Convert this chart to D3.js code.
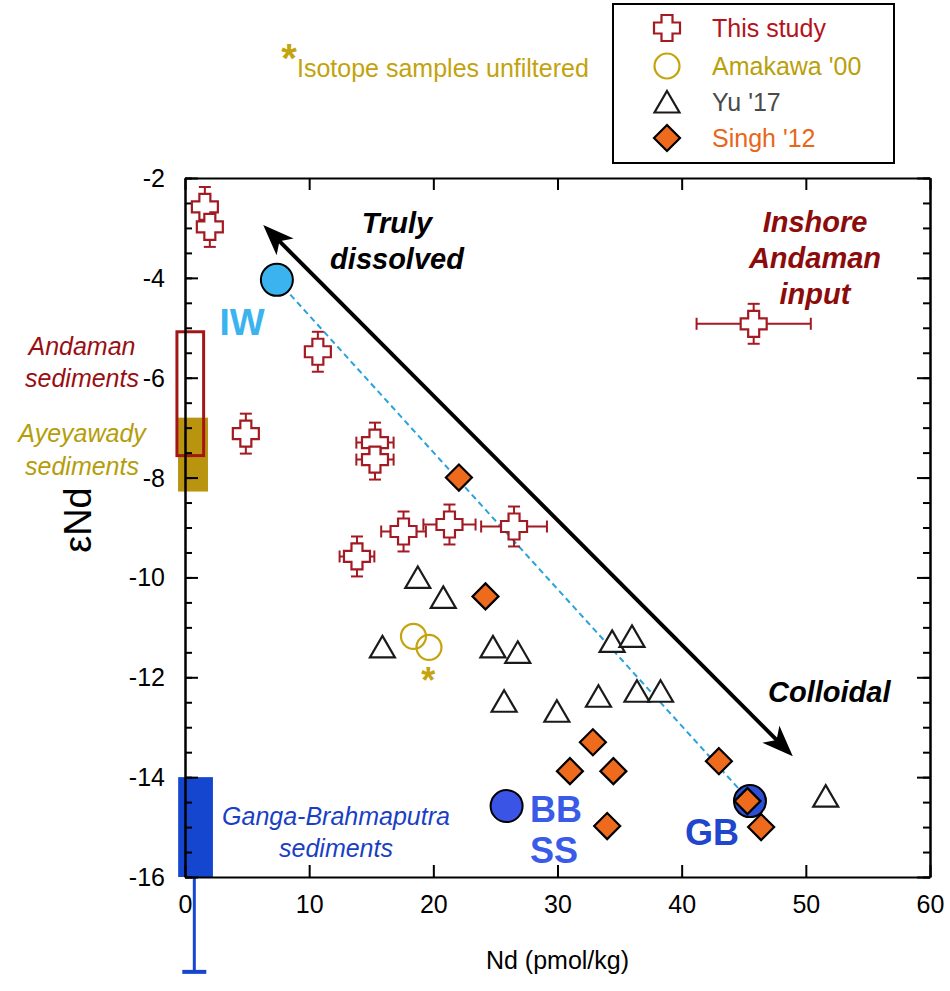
<!DOCTYPE html>
<html>
<head>
<meta charset="utf-8">
<script src="https://cdn.jsdelivr.net/npm/d3@7"></script>
<style>
  body { margin: 0; background: #fff; }
  svg { font-family: "Liberation Sans", Arial, Helvetica, sans-serif; }
</style>
</head>
<body>
<div class="chart"></div>
<script>
/*** DATA ***/
// this study (crosses, with error bars)
const studyNd     = [1.6, 2.0, 10.7, 4.9, 15.3, 15.3, 13.85, 17.6, 21.3, 26.5, 45.8];
const studyEps    = [-2.58, -2.98, -5.48, -7.12, -7.3, -7.64, -9.58, -9.08, -8.94, -8.98, -4.92];
const studyNdErr  = [0, 0, 0, 0, 1.5, 1.5, 1.4, 1.8, 2.1, 2.65, 4.6];
const studyEpsErr = [0.4, 0.4, 0.4, 0.4, 0.4, 0.4, 0.4, 0.4, 0.4, 0.4, 0.4];

// Amakawa '00
const amakawaNd  = [18.4, 19.65];
const amakawaEps = [-11.18, -11.4];
// unfiltered isotope sample flag
const unfilteredNd  = [19.6];
const unfilteredEps = [-11.9];

// Yu '17
const yuNd  = [18.75, 20.8, 15.9, 24.8, 26.8, 34.4, 36.0, 25.7, 29.95, 33.3, 36.4, 38.3, 51.6];
const yuEps = [-10.0, -10.4, -11.39, -11.39, -11.5, -11.28, -11.18, -12.48, -12.68, -12.38, -12.28, -12.28, -14.38];

// Singh '12
const singhNd  = [22.06, 24.2, 32.85, 31.0, 34.5, 43.0, 45.3, 46.4, 34.0];
const singhEps = [-8.0, -10.38, -13.3, -13.88, -13.88, -13.68, -14.48, -15.0, -14.98];

// end members
const endNames = ['IW', 'BB', 'GB'];
const endNd    = [7.4, 25.9, 45.5];
const endEps   = [-4.04, -14.58, -14.48];

// sediment ranges [nd0, nd1, eps0, eps1]
const andamanSed   = [-0.65, 1.5, -5.08, -7.56];
const ayeyawadySed = [-0.56, 1.85, -6.8, -8.28];
const gangaSed     = [-0.55, 2.25, -14, -16];
const gangaErrNd   = 0.75;
const gangaErrLow  = -17.9;

// trend arrow ends
const arrowNd  = [6.3, 48.95];
const arrowEps = [-2.94, -13.58];

// axes
const xTicks = [0, 10, 20, 30, 40, 50, 60];
const yTicks = [-16, -14, -12, -10, -8, -6, -4, -2];

// legend
const legendNames = ['This study', "Amakawa '00", "Yu '17", "Singh '12"];

/*** LAYOUT ***/
const width = 950, height = 991;
const plot = { left: 185, right: 930, top: 178, bottom: 877 };

const svg = d3.select('.chart')
  .append('svg')
  .attr('width', width)
  .attr('height', height);

const x = d3.scaleLinear().domain([0, 60]).range([plot.left, plot.right]);
const y = d3.scaleLinear().domain([-16, -2]).range([plot.bottom, plot.top]);

/*** MARKER SHAPES ***/
function crossPath(s, a) {
  return `M${-a},${-s}H${a}V${-a}H${s}V${a}H${a}V${s}H${-a}V${a}H${-s}V${-a}H${-a}Z`;
}
const crossD    = crossPath(13, 5.5);
const triangleD = 'M0,-11L12.5,10.5L-12.5,10.5Z';
const diamondD  = 'M0,-13L13,0L0,13L-13,0Z';

const RED = '#a31a22', GOLD = '#c4a40c', ORANGE = '#ee6a1d';

/*** SEDIMENT RANGES ***/
function rangeRect(r) {
  return {
    x: x(Math.min(r[0], r[1])), w: Math.abs(x(r[1]) - x(r[0])),
    y: y(Math.max(r[2], r[3])), h: Math.abs(y(r[3]) - y(r[2]))
  };
}
const ay = rangeRect(ayeyawadySed);
svg.append('rect').attr('x', ay.x).attr('y', ay.y).attr('width', ay.w).attr('height', ay.h)
  .attr('fill', '#b8940f');

const an = rangeRect(andamanSed);
svg.append('rect').attr('x', an.x).attr('y', an.y).attr('width', an.w).attr('height', an.h)
  .attr('fill', 'none').attr('stroke', '#a31616').attr('stroke-width', 3);

const gb = rangeRect(gangaSed);
svg.append('rect').attr('x', gb.x).attr('y', gb.y).attr('width', gb.w).attr('height', gb.h)
  .attr('fill', '#1446cf');
svg.append('line')
  .attr('x1', x(gangaErrNd)).attr('x2', x(gangaErrNd))
  .attr('y1', y(-16)).attr('y2', y(gangaErrLow))
  .attr('stroke', '#1446cf').attr('stroke-width', 3);
svg.append('line')
  .attr('x1', x(gangaErrNd) - 12).attr('x2', x(gangaErrNd) + 12)
  .attr('y1', y(gangaErrLow)).attr('y2', y(gangaErrLow))
  .attr('stroke', '#1446cf').attr('stroke-width', 4);

/*** AXES ***/
const yMinor = d3.range(-16, -1.99, 0.5);
const plain = d => String(d);   // keep the ASCII hyphen for negatives

function styleAxis(g) {
  g.attr('font-family', null).attr('font-size', 25);
  g.select('.domain').attr('stroke', '#000').attr('stroke-width', 2);
  g.selectAll('.tick line').attr('stroke', '#000').attr('stroke-width', 2);
  g.selectAll('.tick text').attr('fill', '#000');
}

svg.append('g')
  .attr('transform', `translate(0,${plot.bottom})`)
  .call(d3.axisBottom(x).tickValues(xTicks).tickFormat(plain).tickSizeInner(-12).tickSizeOuter(0).tickPadding(18))
  .call(styleAxis);

svg.append('g')
  .attr('transform', `translate(0,${plot.top})`)
  .call(d3.axisTop(x).tickValues(xTicks).tickSizeInner(-12).tickSizeOuter(0).tickFormat(''))
  .call(styleAxis);

svg.append('g')
  .attr('transform', `translate(${plot.left},0)`)
  .call(d3.axisLeft(y).tickValues(yMinor).tickSizeInner(-7).tickSizeOuter(0).tickFormat(''))
  .call(styleAxis);
svg.append('g')
  .attr('transform', `translate(${plot.left},0)`)
  .call(d3.axisLeft(y).tickValues(yTicks).tickFormat(plain).tickSizeInner(-13).tickSizeOuter(0).tickPadding(20))
  .call(styleAxis)
  .selectAll('.tick text').attr('dy', '0.34em');

svg.append('g')
  .attr('transform', `translate(${plot.right},0)`)
  .call(d3.axisRight(y).tickValues(yMinor).tickSizeInner(-7).tickSizeOuter(0).tickFormat(''))
  .call(styleAxis);
svg.append('g')
  .attr('transform', `translate(${plot.right},0)`)
  .call(d3.axisRight(y).tickValues(yTicks).tickSizeInner(-13).tickSizeOuter(0).tickFormat(''))
  .call(styleAxis);

// axis titles
svg.append('text')
  .attr('x', x(30)).attr('y', 969)
  .attr('text-anchor', 'middle')
  .attr('font-size', 25)
  .text('Nd (pmol/kg)');

svg.append('text')
  .attr('transform', 'translate(91,520) rotate(-90)')
  .attr('text-anchor', 'middle')
  .attr('font-size', 38)
  .text('εNd');

/*** MIXING LINE & TREND ARROW ***/
svg.append('line')
  .attr('x1', x(endNd[0])).attr('y1', y(endEps[0]))
  .attr('x2', x(endNd[2])).attr('y2', y(endEps[2]))
  .attr('stroke', '#2aa2da').attr('stroke-width', 2)
  .attr('stroke-dasharray', '6,4');

const p0 = [x(arrowNd[0]), y(arrowEps[0])];
const p1 = [x(arrowNd[1]), y(arrowEps[1])];
const ang = Math.atan2(p1[1] - p0[1], p1[0] - p0[0]);
const ux = Math.cos(ang), uy = Math.sin(ang);
svg.append('line')
  .attr('x1', p0[0] + ux * 18).attr('y1', p0[1] + uy * 18)
  .attr('x2', p1[0] - ux * 18).attr('y2', p1[1] - uy * 18)
  .attr('stroke', '#000').attr('stroke-width', 4);
const headD = 'M0,0L-31,-12L-23,0L-31,12Z';
svg.append('path').attr('d', headD)
  .attr('transform', `translate(${p1[0]},${p1[1]}) rotate(${ang * 180 / Math.PI})`);
svg.append('path').attr('d', headD)
  .attr('transform', `translate(${p0[0]},${p0[1]}) rotate(${ang * 180 / Math.PI + 180})`);

/*** SERIES ***/
// Yu '17
svg.append('g').selectAll('path')
  .data(d3.zip(yuNd, yuEps))
  .join('path')
  .attr('d', triangleD)
  .attr('transform', d => `translate(${x(d[0])},${y(d[1])})`)
  .attr('fill', '#fff').attr('stroke', '#1a1a1a').attr('stroke-width', 2.2);

// Amakawa '00
svg.append('g').selectAll('circle')
  .data(d3.zip(amakawaNd, amakawaEps))
  .join('circle')
  .attr('cx', d => x(d[0])).attr('cy', d => y(d[1]))
  .attr('r', 12.5)
  .attr('fill', 'none').attr('stroke', GOLD).attr('stroke-width', 2.2);

svg.append('g').selectAll('text')
  .data(d3.zip(unfilteredNd, unfilteredEps))
  .join('text')
  .attr('x', d => x(d[0])).attr('y', d => y(d[1]) + 21)
  .attr('text-anchor', 'middle')
  .attr('font-size', 36).attr('font-weight', 'bold')
  .attr('fill', GOLD)
  .text('*');

// end members
const endFill = ['#3bb3ef', '#3a55e6', '#2d4fd6'];
svg.append('g').selectAll('circle')
  .data(endNames)
  .join('circle')
  .attr('cx', (d, i) => x(endNd[i])).attr('cy', (d, i) => y(endEps[i]))
  .attr('r', 16)
  .attr('fill', (d, i) => endFill[i])
  .attr('stroke', '#000').attr('stroke-width', 2);

// Singh '12
svg.append('g').selectAll('path')
  .data(d3.zip(singhNd, singhEps))
  .join('path')
  .attr('d', diamondD)
  .attr('transform', d => `translate(${x(d[0])},${y(d[1])})`)
  .attr('fill', ORANGE).attr('stroke', '#000').attr('stroke-width', 2.2);

// This study: error bars then crosses
const study = d3.zip(studyNd, studyEps, studyNdErr, studyEpsErr);
const errG = svg.append('g').attr('stroke', RED).attr('stroke-width', 2);
study.forEach(d => {
  const cx = x(d[0]), cy = y(d[1]);
  if (d[2] > 0) {
    const xa = x(d[0] - d[2]), xb = x(d[0] + d[2]);
    errG.append('line').attr('x1', xa).attr('x2', xb).attr('y1', cy).attr('y2', cy);
    errG.append('line').attr('x1', xa).attr('x2', xa).attr('y1', cy - 6).attr('y2', cy + 6);
    errG.append('line').attr('x1', xb).attr('x2', xb).attr('y1', cy - 6).attr('y2', cy + 6);
  }
  if (d[3] > 0) {
    const ya = y(d[1] + d[3]), yb = y(d[1] - d[3]);
    errG.append('line').attr('x1', cx).attr('x2', cx).attr('y1', ya).attr('y2', yb);
    errG.append('line').attr('x1', cx - 6).attr('x2', cx + 6).attr('y1', ya).attr('y2', ya);
    errG.append('line').attr('x1', cx - 6).attr('x2', cx + 6).attr('y1', yb).attr('y2', yb);
  }
});
svg.append('g').selectAll('path')
  .data(study)
  .join('path')
  .attr('d', crossD)
  .attr('transform', d => `translate(${x(d[0])},${y(d[1])})`)
  .attr('fill', '#fff').attr('stroke', RED).attr('stroke-width', 2.2);

/*** ANNOTATIONS ***/
function multiLine(lines, px, py, lh, opts) {
  const t = svg.append('text')
    .attr('x', px).attr('y', py)
    .attr('text-anchor', opts.anchor || 'middle')
    .attr('font-size', opts.size)
    .attr('font-weight', opts.weight || 'normal')
    .attr('font-style', opts.style || 'normal')
    .attr('fill', opts.fill);
  lines.forEach((l, i) => {
    t.append('tspan').attr('x', px).attr('dy', i === 0 ? 0 : lh).text(l);
  });
}

multiLine(['Truly', 'dissolved'], 397, 233, 36, { size: 29, weight: 'bold', style: 'italic', fill: '#000' });
multiLine(['Inshore', 'Andaman', 'input'], 815, 232, 36, { size: 29, weight: 'bold', style: 'italic', fill: '#8c0c0c' });
multiLine(['Colloidal'], 768, 702, 0, { size: 29, weight: 'bold', style: 'italic', fill: '#000', anchor: 'start' });

multiLine(['Andaman', 'sediments'], 82, 355, 32, { size: 25, style: 'italic', fill: '#9a0e12' });
multiLine(['Ayeyawady', 'sediments'], 82, 442, 33, { size: 25, style: 'italic', fill: '#b59d0a' });
multiLine(['Ganga-Brahmaputra', 'sediments'], 336, 825, 32, { size: 25, style: 'italic', fill: '#1a3fc4' });

multiLine(['IW'], 242, 335, 0, { size: 37, weight: 'bold', fill: '#3bb3ef' });
multiLine(['BB', 'SS'], 530, 822, 41, { size: 36, weight: 'bold', fill: '#3a5be8', anchor: 'start' });
multiLine(['GB'], 685, 845, 0, { size: 36, weight: 'bold', fill: '#1f46cc', anchor: 'start' });

// unfiltered note
svg.append('text')
  .attr('x', 289).attr('y', 72)
  .attr('text-anchor', 'middle')
  .attr('font-size', 40).attr('font-weight', 'bold')
  .attr('fill', GOLD)
  .text('*');
svg.append('text')
  .attr('x', 297).attr('y', 77)
  .attr('font-size', 25)
  .attr('fill', '#c2a30c')
  .text('Isotope samples unfiltered');

/*** LEGEND ***/
const legend = svg.append('g');
legend.append('rect')
  .attr('x', 613).attr('y', 4).attr('width', 281).attr('height', 159)
  .attr('fill', '#fff').attr('stroke', '#000').attr('stroke-width', 2);

const legendRows = [28, 66, 102, 138];
const legendText = ['#b5121b', '#b9a00a', '#4a4a4a', '#e8661a'];

legend.append('path').attr('d', crossD)
  .attr('transform', `translate(667,${legendRows[0]})`)
  .attr('fill', '#fff').attr('stroke', RED).attr('stroke-width', 2.2);
legend.append('circle').attr('cx', 667).attr('cy', legendRows[1]).attr('r', 12.5)
  .attr('fill', 'none').attr('stroke', GOLD).attr('stroke-width', 2.2);
legend.append('path').attr('d', triangleD)
  .attr('transform', `translate(667,${legendRows[2]})`)
  .attr('fill', '#fff').attr('stroke', '#1a1a1a').attr('stroke-width', 2.2);
legend.append('path').attr('d', diamondD)
  .attr('transform', `translate(667,${legendRows[3]})`)
  .attr('fill', ORANGE).attr('stroke', '#000').attr('stroke-width', 2.2);

legend.selectAll('text.legend-label')
  .data(legendNames)
  .join('text')
  .attr('class', 'legend-label')
  .attr('x', 712)
  .attr('y', (d, i) => legendRows[i] + 9)
  .attr('font-size', 25)
  .attr('fill', (d, i) => legendText[i])
  .text(d => d);
</script>
</body>
</html>
